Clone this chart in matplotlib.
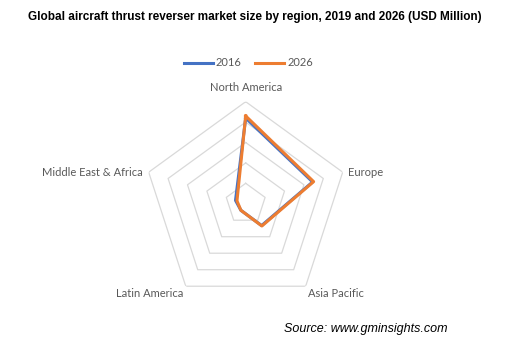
import numpy as np
import matplotlib
matplotlib.use("Agg")
import matplotlib.pyplot as plt

categories = ["North America", "Europe", "Asia Pacific", "Latin America", "Middle East & Africa"]
series_names = ["2016", "2026"]
values_2016 = [840, 690, 265, 80, 105]
values_2026 = [860, 700, 270, 80, 90]
ring_ticks = [200, 400, 600, 800, 1000]

title = "Global aircraft thrust reverser market size by region, 2019 and 2026 (USD Million)"
source = "Source: www.gminsights.com"

W, H = 505, 344
fig = plt.figure(figsize=(W / 100, H / 100), dpi=100)

cx, cy, R = 245.7, 203.7, 102.0
ax = fig.add_axes([(cx - R) / W, (H - cy - R) / H, 2 * R / W, 2 * R / H], projection="polar")
ax.set_theta_offset(np.pi / 2)
ax.set_theta_direction(-1)
ax.set_ylim(0, ring_ticks[-1])
ax.grid(False)
ax.spines["polar"].set_visible(False)
ax.set_xticks([])
ax.set_yticks([])
ax.patch.set_alpha(0)

n = len(categories)
theta = np.linspace(0, 2 * np.pi, n, endpoint=False)
theta_c = np.append(theta, theta[0])

for r in ring_ticks:
    ax.plot(theta_c, [r] * (n + 1), color="#d9d9d9", lw=0.9, zorder=1)

colors = ["#4472C4", "#ED7D31"]
for vals, name, col in zip([values_2016, values_2026], series_names, colors):
    v = np.append(vals, vals[0])
    ax.plot(theta_c, v, color=col, lw=2.2, label=name, zorder=3, solid_joinstyle="round")

lab_font = dict(family=["Lato", "DejaVu Sans"], size=8, color="#595959")
offsets = [((0, 6), "center", "bottom"),
           ((4, 0), "left", "center"),
           ((2, -1), "left", "top"),
           ((-2, -1), "right", "top"),
           ((-4, 0), "right", "center")]
for t, cat, (off, ha, va) in zip(theta, categories, offsets):
    ax.annotate(cat, xy=(t, ring_ticks[-1]), xytext=off, textcoords="offset points",
                ha=ha, va=va, annotation_clip=False, **lab_font)

fig.text(254.5 / W, 1 - 17 / H, title, ha="center", va="center",
         family=["Liberation Sans", "DejaVu Sans"], weight="bold", size=8.5, color="#000000")

leg = fig.legend(loc="center", bbox_to_anchor=(0.492, 1 - 63 / H), ncol=2, frameon=False,
                 handlelength=2.6, columnspacing=1.2, handletextpad=0.3,
                 prop=dict(family=["Lato", "DejaVu Sans"], size=8))
for txt in leg.get_texts():
    txt.set_color("#595959")

fig.text(366 / W, 1 - 329 / H, source, ha="center", va="center",
         family=["Liberation Sans", "DejaVu Sans"], style="italic", size=9, color="#000000")

fig.savefig("out.png", dpi=100)
